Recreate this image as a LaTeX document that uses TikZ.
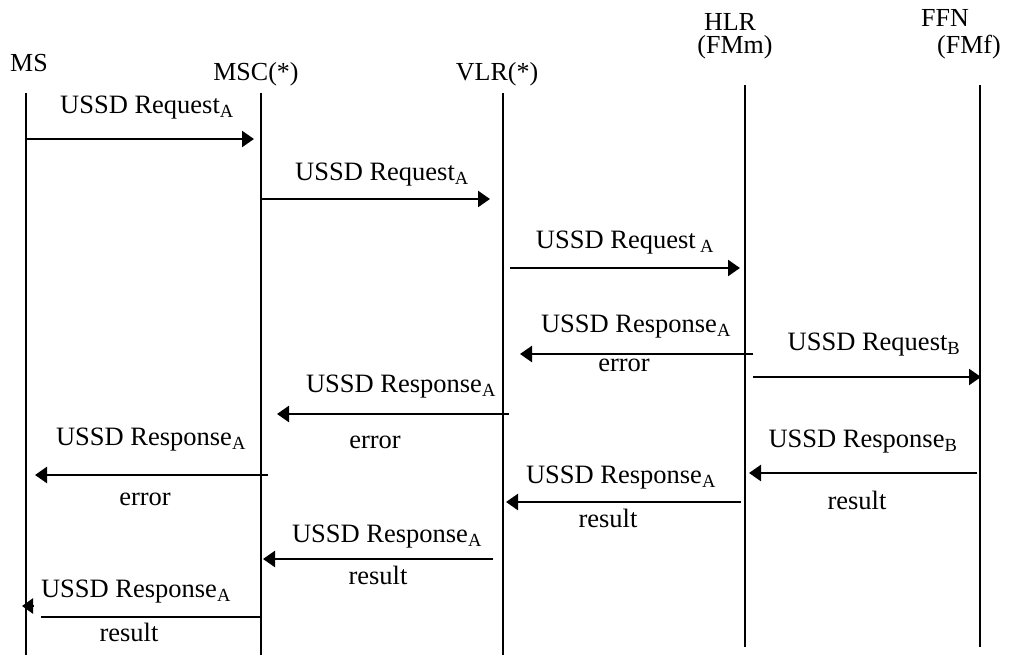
\documentclass[tikz,border=0pt]{standalone}
\usepackage{fontspec}
\setmainfont{Liberation Serif}
\usetikzlibrary{arrows.meta}
\tikzset{
  lifeline/.style={line width=2.4pt},
  msg/.style={line width=2.4pt,-{Triangle[length=12pt,width=16pt]}},
  tipmark/.style={line width=2.4pt,-{Triangle[length=11pt,width=15pt]}},
  lbl/.style={inner sep=0pt,font=\fontsize{26.5}{30}\selectfont},
  hdr/.style={inner sep=0pt,font=\fontsize{26}{30}\selectfont},
}
\newcommand{\subA}{\textsubscript{A}}
\newcommand{\subB}{\textsubscript{B}}
\begin{document}
\begin{tikzpicture}[x=1pt,y=-1pt]
\useasboundingbox (0,0) rectangle (1015,655);
% headers
\node[hdr] (hMS) at (29,63) {MS};
\node[hdr] (hMSC) at (256,74) {MSC(*)};
\node[hdr] (hVLR) at (497,74) {VLR(*)};
\node[hdr] (hHLR) at (730,22) {HLR};
\node[hdr] (hHLR2) at (735,47) {(FMm)};
\node[hdr] (hFFN) at (945,18) {FFN};
\node[hdr] (hFFN2) at (969,47) {(FMf)};
% lifelines
\coordinate (msT) at (26,93);   \coordinate (msB) at (26,655);
\coordinate (mscT) at (261,93); \coordinate (mscB) at (261,655);
\coordinate (vlrT) at (503,93); \coordinate (vlrB) at (503,655);
\coordinate (hlrT) at (745,85); \coordinate (hlrB) at (745,647);
\coordinate (ffnT) at (980,85); \coordinate (ffnB) at (980,647);
\draw[lifeline] (msT) -- (msB);
\draw[lifeline] (mscT) -- (mscB);
\draw[lifeline] (vlrT) -- (vlrB);
\draw[lifeline] (hlrT) -- (hlrB);
\draw[lifeline] (ffnT) -- (ffnB);
% message 1
\coordinate (a1) at (26,139); \coordinate (b1) at (254,139);
\draw[msg] (a1) -- (b1);
\node[lbl] (l1) at (147,108) {USSD Request\subA};
% message 2
\coordinate (a2) at (261,199); \coordinate (b2) at (490,199);
\draw[msg] (a2) -- (b2);
\node[lbl] (l2) at (382,175) {USSD Request\subA};
% message 3
\coordinate (a3) at (510,268); \coordinate (b3) at (740,268);
\draw[msg] (a3) -- (b3);
\node[lbl] (l3) at (625,243) {USSD Request\,\subA};
% message 4
\coordinate (a4) at (753,354); \coordinate (b4) at (520,354);
\draw[msg] (a4) -- (b4);
\node[lbl] (l4) at (636,327) {USSD Response\subA};
\node[lbl] (e4) at (624,365) {error};
% message 5 (request B)
\coordinate (a5) at (753,377); \coordinate (b5) at (981,377);
\draw[msg] (a5) -- (b5);
\node[lbl] (l5) at (874,345) {USSD Request\subB};
% message 6
\coordinate (a6) at (509,414); \coordinate (b6) at (277,414);
\draw[msg] (a6) -- (b6);
\node[lbl] (l6) at (401,387) {USSD Response\subA};
\node[lbl] (e6) at (375,442) {error};
% message 7
\coordinate (a7) at (268,475); \coordinate (b7) at (35,475);
\draw[msg] (a7) -- (b7);
\node[lbl] (l7) at (151,440) {USSD Response\subA};
\node[lbl] (e7) at (145,499) {error};
% message 8 (response B)
\coordinate (a8) at (977,473); \coordinate (b8) at (749,473);
\draw[msg] (a8) -- (b8);
\node[lbl] (l8) at (863,442) {USSD Response\subB};
\node[lbl] (r8) at (857,500) {result};
% message 9
\coordinate (a9) at (741,502); \coordinate (b9) at (506,502);
\draw[msg] (a9) -- (b9);
\node[lbl] (l9) at (621,478) {USSD Response\subA};
\node[lbl] (r9) at (608,518) {result};
% message 10
\coordinate (a10) at (493,559); \coordinate (b10) at (263,559);
\draw[msg] (a10) -- (b10);
\node[lbl] (l10) at (387,537) {USSD Response\subA};
\node[lbl] (r10) at (378,575) {result};
% message 11 (line and offset arrowhead)
\coordinate (a11) at (261,617); \coordinate (b11) at (41,617);
\draw[lifeline] (a11) -- (b11);
\coordinate (t11a) at (34,606); \coordinate (t11b) at (22,606);
\draw[tipmark] (t11a) -- (t11b);
\node[lbl] (l11) at (136,592) {USSD Response\subA};
\node[lbl] (r11) at (129,632) {result};
\end{tikzpicture}
\end{document}
